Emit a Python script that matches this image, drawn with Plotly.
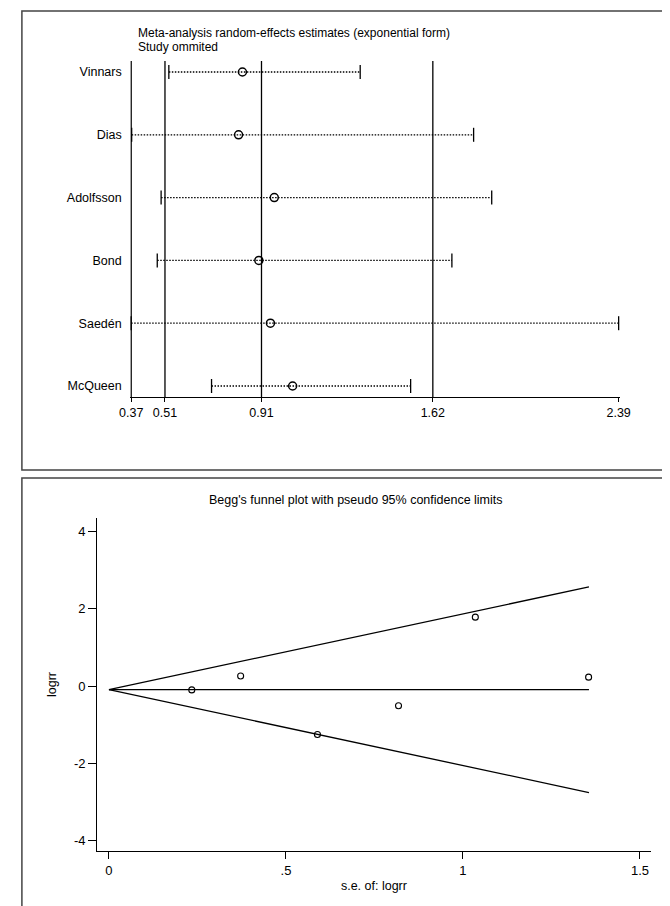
"""Sensitivity analysis (study omitted) and Begg's funnel plot, Stata-style."""

import plotly.graph_objects as go

W, H = 670, 906

# --- top panel: leave-one-out estimates (exponential form) ---
studies = ["Vinnars", "Dias", "Adolfsson", "Bond", "Saedén", "McQueen"]
estimate = [0.831, 0.815, 0.963, 0.899, 0.947, 1.039]
ci_lower = [0.526, 0.372, 0.494, 0.478, 0.370, 0.703]
ci_upper = [1.319, 1.789, 1.864, 1.699, 2.390, 1.528]
ref_lines = [0.37, 0.51, 0.91, 1.62]
axis_ticks = [0.37, 0.51, 0.91, 1.62, 2.39]
axis_ticktext = ["0.37", "0.51", "0.91", "1.62", "2.39"]

# --- bottom panel: Begg's funnel ---
se_logrr = [0.234, 0.372, 0.589, 0.818, 1.035, 1.355]
logrr = [-0.10, 0.26, -1.25, -0.51, 1.78, 0.23]
funnel_se = [0.0, 1.356]
funnel_mid = [-0.094, -0.094]
funnel_upper = [-0.094, 2.56]
funnel_lower = [-0.094, -2.75]
y2_ticks = [-4, -2, 0, 2, 4]
y2_ticktext = ["-4", "-2", "0", "2", "4"]

FONT = "Liberation Sans"
BLACK = "#000000"


def px_x(p):
    return p / W


def px_y(p):
    return 1 - p / H


rows = list(range(len(studies)))
y_top, y_bot = -0.175, 5.175

fig = go.Figure()

# reference verticals
vx, vy = [], []
for v in ref_lines:
    vx += [v, v, None]
    vy += [y_top, y_bot, None]
fig.add_trace(go.Scatter(x=vx, y=vy, mode="lines", line=dict(color=BLACK, width=1.3),
                         xaxis="x", yaxis="y", hoverinfo="skip"))

# dotted CI lines
cx, cy = [], []
for lo, hi, r in zip(ci_lower, ci_upper, rows):
    cx += [lo, hi, None]
    cy += [r, r, None]
fig.add_trace(go.Scatter(x=cx, y=cy, mode="lines",
                         line=dict(color=BLACK, width=1.3, dash="1.5px,1.5px"),
                         xaxis="x", yaxis="y", hoverinfo="skip"))

# CI end caps
fig.add_trace(go.Scatter(x=ci_lower + ci_upper, y=rows + rows, mode="markers",
                         marker=dict(symbol="line-ns", size=10, color=BLACK,
                                     line=dict(color=BLACK, width=1.3)),
                         cliponaxis=False,
                         xaxis="x", yaxis="y", hoverinfo="skip"))

# point estimates
fig.add_trace(go.Scatter(x=estimate, y=rows, mode="markers",
                         marker=dict(symbol="circle-open", size=8, color=BLACK,
                                     line=dict(color=BLACK, width=1.5)),
                         xaxis="x", yaxis="y", text=studies))

# funnel limits
for fy in (funnel_mid, funnel_upper, funnel_lower):
    fig.add_trace(go.Scatter(x=funnel_se, y=fy, mode="lines",
                             line=dict(color=BLACK, width=1.3),
                             xaxis="x2", yaxis="y2", hoverinfo="skip"))

fig.add_trace(go.Scatter(x=se_logrr, y=logrr, mode="markers",
                         marker=dict(symbol="circle-open", size=6, color=BLACK,
                                     line=dict(color=BLACK, width=1.1)),
                         xaxis="x2", yaxis="y2"))

fig.update_layout(
    width=W, height=H, autosize=False,
    margin=dict(l=0, r=0, t=0, b=0),
    paper_bgcolor="white", plot_bgcolor="white",
    showlegend=False,
    font=dict(family=FONT, size=12, color=BLACK),
    xaxis=dict(
        domain=[px_x(115), px_x(621)], range=[0.366, 2.394],
        tickvals=axis_ticks, ticktext=axis_ticktext,
        ticks="outside", ticklen=4, tickwidth=1.3, tickcolor=BLACK,
        showline=True, linecolor=BLACK, linewidth=1.3,
        showgrid=False, zeroline=False, anchor="y",
        tickfont=dict(size=12.5),
    ),
    yaxis=dict(
        domain=[px_y(389), px_y(53)], range=[y_bot, y_top],
        tickvals=rows, ticktext=studies,
        ticks="outside", ticklen=5, tickcolor="rgba(0,0,0,0)",
        showline=False, showgrid=False, zeroline=False, anchor="x",
        tickfont=dict(size=12.5),
    ),
    xaxis2=dict(
        domain=[px_x(81), px_x(653)], range=[-0.0328, 1.530],
        tickvals=[0, 0.5, 1, 1.5], ticktext=["0", ".5", "1", "1.5"],
        ticks="outside", ticklen=7, tickwidth=1.3, tickcolor=BLACK,
        showline=True, linecolor=BLACK, linewidth=1.3,
        showgrid=False, zeroline=False, anchor="y2",
        title=dict(text="s.e. of: logrr", standoff=4, font=dict(size=12.5)),
        tickfont=dict(size=13),
    ),
    yaxis2=dict(
        domain=[px_y(843), px_y(510)], range=[-4.26, 4.34],
        tickvals=y2_ticks, ticktext=y2_ticktext,
        ticks="outside", ticklen=8, tickwidth=1.3, tickcolor=BLACK,
        showline=True, linecolor=BLACK, linewidth=1.3,
        showgrid=False, zeroline=False, anchor="x2",
        title=dict(text="logrr", standoff=14, font=dict(size=12.5)),
        tickfont=dict(size=13),
    ),
    annotations=[
        dict(text="Meta-analysis random-effects estimates (exponential form)",
             x=px_x(121), y=px_y(25), xref="paper", yref="paper",
             xanchor="left", yanchor="middle", showarrow=False, font=dict(size=12)),
        dict(text="Study ommited",
             x=px_x(121), y=px_y(39), xref="paper", yref="paper",
             xanchor="left", yanchor="middle", showarrow=False, font=dict(size=12)),
        dict(text="Begg's funnel plot with pseudo 95% confidence limits",
             x=px_x(348), y=px_y(492), xref="paper", yref="paper",
             xanchor="center", yanchor="middle", showarrow=False, font=dict(size=12.5)),
    ],
    shapes=[
        dict(type="rect", xref="paper", yref="paper",
             x0=px_x(3), x1=px_x(667), y0=px_y(462), y1=px_y(3),
             line=dict(color="#444444", width=1.5)),
        dict(type="rect", xref="paper", yref="paper",
             x0=px_x(3), x1=px_x(667), y0=px_y(903), y1=px_y(470),
             line=dict(color="#444444", width=1.5)),
    ],
)

fig.write_html("out.html")
